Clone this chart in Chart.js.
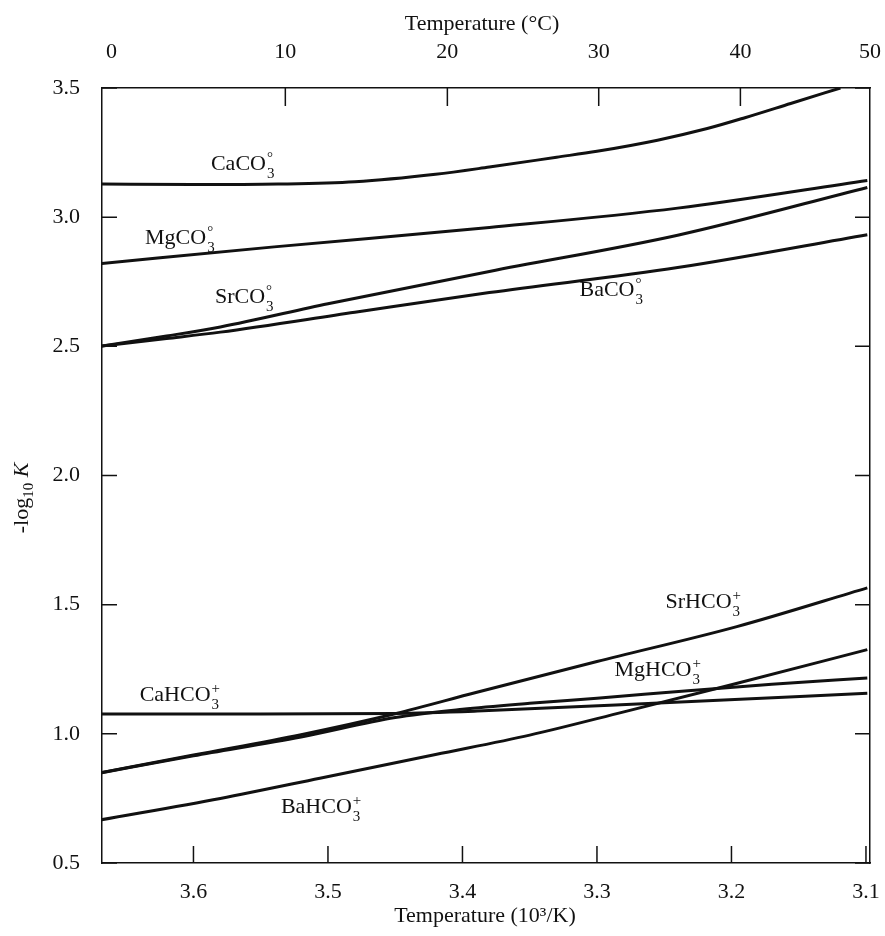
<!DOCTYPE html>
<html>
<head>
<meta charset="utf-8">
<script src="https://cdn.jsdelivr.net/npm/chart.js@4.4.1/dist/chart.umd.min.js"></script>
<style>
  html, body { margin: 0; padding: 0; background: #fff; }
</style>
</head>
<body>
<canvas id="chart" width="885" height="936"></canvas>
<script>
// axis ticks
const X_TICKS = [3.6, 3.5, 3.4, 3.3, 3.2, 3.1];
const Y_TICKS = [0.5, 1.0, 1.5, 2.0, 2.5, 3.0, 3.5];
const CELSIUS_TICKS = [0, 10, 20, 30, 40, 50];

// -log10 K against 1000/T
const CACO3_X = [3.670, 3.600, 3.537, 3.480, 3.420, 3.380, 3.330, 3.300, 3.255, 3.218, 3.190, 3.156, 3.119];
const CACO3_Y = [3.128, 3.126, 3.128, 3.137, 3.166, 3.194, 3.232, 3.255, 3.298, 3.343, 3.385, 3.440, 3.500];

const MGCO3_X = [3.670, 3.540, 3.380, 3.240, 3.099];
const MGCO3_Y = [2.820, 2.885, 2.960, 3.035, 3.142];

const SRCO3_X = [3.670, 3.620, 3.580, 3.500, 3.380, 3.240, 3.099];
const SRCO3_Y = [2.500, 2.540, 2.575, 2.665, 2.790, 2.930, 3.115];

const BACO3_X = [3.670, 3.620, 3.580, 3.480, 3.380, 3.240, 3.099];
const BACO3_Y = [2.500, 2.530, 2.555, 2.632, 2.708, 2.805, 2.932];

const CAHCO3_X = [3.670, 3.550, 3.450, 3.389, 3.250, 3.099];
const CAHCO3_Y = [1.077, 1.077, 1.079, 1.088, 1.120, 1.157];

const MGHCO3_X = [3.670, 3.600, 3.520, 3.450, 3.400, 3.350, 3.300, 3.230, 3.170, 3.099];
const MGHCO3_Y = [0.848, 0.915, 0.988, 1.063, 1.095, 1.118, 1.138, 1.168, 1.192, 1.216];

const SRHCO3_X = [3.670, 3.600, 3.520, 3.450, 3.390, 3.300, 3.196, 3.099];
const SRHCO3_Y = [0.848, 0.918, 0.997, 1.078, 1.160, 1.280, 1.415, 1.565];

const BAHCO3_X = [3.670, 3.580, 3.506, 3.420, 3.350, 3.280, 3.200, 3.099];
const BAHCO3_Y = [0.666, 0.750, 0.828, 0.920, 0.995, 1.085, 1.190, 1.326];

// curve labels, anchored in data units (left edge, middle of text)
const SPECIES = [
  { name: 'CaCO', sup: '°', x: 3.587, y: 3.206 },
  { name: 'MgCO', sup: '°', x: 3.636, y: 2.919 },
  { name: 'SrCO', sup: '°', x: 3.584, y: 2.691 },
  { name: 'BaCO', sup: '°', x: 3.313, y: 2.718 },
  { name: 'CaHCO', sup: '+', x: 3.640, y: 1.150 },
  { name: 'MgHCO', sup: '+', x: 3.287, y: 1.247 },
  { name: 'SrHCO', sup: '+', x: 3.249, y: 1.510 },
  { name: 'BaHCO', sup: '+', x: 3.535, y: 0.716 }
];

const X_MIN = 3.097;
const X_MAX = 3.668;
const SERIF = "'Liberation Serif', 'DejaVu Serif', serif";
const INK = '#111';

function toPoints(xs, ys) {
  return xs.map((x, i) => ({ x: x, y: ys[i] }));
}

function curve(xs, ys) {
  return {
    data: toPoints(xs, ys),
    borderColor: INK,
    borderWidth: 3,
    pointRadius: 0,
    fill: false,
    cubicInterpolationMode: 'monotone'
  };
}

function clampX(v) {
  return Math.min(X_MAX, Math.max(X_MIN, v));
}

const figureText = {
  id: 'figureText',
  afterDraw(chart) {
    const ctx = chart.ctx;
    const { x, y } = chart.scales;
    const area = chart.chartArea;
    ctx.save();
    ctx.fillStyle = INK;
    ctx.strokeStyle = INK;
    ctx.lineWidth = 1.5;

    // inward tick marks on all four sides
    ctx.beginPath();
    X_TICKS.forEach(v => {
      const px = x.getPixelForValue(v);
      ctx.moveTo(px, area.bottom);
      ctx.lineTo(px, area.bottom - 17);
    });
    // 0 and 50 °C sit on the frame, so only the inner ones get a mark
    CELSIUS_TICKS.slice(1, -1).forEach(c => {
      const px = x.getPixelForValue(clampX(1000 / (c + 273.15)));
      ctx.moveTo(px, area.top);
      ctx.lineTo(px, area.top + 18);
    });
    Y_TICKS.forEach(v => {
      const py = y.getPixelForValue(v);
      ctx.moveTo(area.left, py);
      ctx.lineTo(area.left + 15, py);
      ctx.moveTo(area.right, py);
      ctx.lineTo(area.right - 15, py);
    });
    ctx.stroke();

    // curve labels with stacked sub/superscripts
    ctx.textAlign = 'left';
    ctx.textBaseline = 'middle';
    SPECIES.forEach(s => {
      const px = x.getPixelForValue(s.x);
      const py = y.getPixelForValue(s.y);
      ctx.font = '22px ' + SERIF;
      ctx.fillText(s.name, px, py);
      const w = ctx.measureText(s.name).width;
      ctx.font = '15px ' + SERIF;
      ctx.fillText('3', px + w + 1, py + 10);
      ctx.fillText(s.sup, px + w + 1, py - 6);
    });

    // axis titles
    const cx = (area.left + area.right) / 2;
    ctx.textAlign = 'center';
    ctx.font = '22px ' + SERIF;
    ctx.fillText('Temperature (°C)', cx - 4, 24);
    ctx.fillText('Temperature (10³/K)', cx - 1, 916);

    // -log10 K, rotated
    ctx.translate(22, 498);
    ctx.rotate(-Math.PI / 2);
    ctx.textAlign = 'left';
    ctx.font = '22px ' + SERIF;
    const w1 = ctx.measureText('-log').width;
    ctx.font = '15px ' + SERIF;
    const w2 = ctx.measureText('10').width;
    ctx.font = 'italic 22px ' + SERIF;
    const w3 = ctx.measureText(' K').width;
    let tx = -(w1 + w2 + w3) / 2;
    ctx.font = '22px ' + SERIF;
    ctx.fillText('-log', tx, 0);
    tx += w1;
    ctx.font = '15px ' + SERIF;
    ctx.fillText('10', tx, 7);
    tx += w2;
    ctx.font = 'italic 22px ' + SERIF;
    ctx.fillText(' K', tx, 0);
    ctx.restore();
  }
};

const tickFont = { family: SERIF, size: 22 };

new Chart(document.getElementById('chart'), {
  type: 'line',
  data: {
    datasets: [
      curve(CACO3_X, CACO3_Y),
      curve(MGCO3_X, MGCO3_Y),
      curve(SRCO3_X, SRCO3_Y),
      curve(BACO3_X, BACO3_Y),
      curve(CAHCO3_X, CAHCO3_Y),
      curve(MGHCO3_X, MGHCO3_Y),
      curve(SRHCO3_X, SRHCO3_Y),
      curve(BAHCO3_X, BAHCO3_Y)
    ]
  },
  options: {
    responsive: false,
    animation: false,
    layout: { padding: 0 },
    plugins: {
      legend: { display: false },
      tooltip: { enabled: false }
    },
    scales: {
      x: {
        type: 'linear',
        position: 'bottom',
        reverse: true,
        min: X_MIN,
        max: X_MAX,
        afterBuildTicks: s => { s.ticks = X_TICKS.map(v => ({ value: v })); },
        afterFit: s => { s.height = 73; s.paddingLeft = 0; s.paddingRight = 0; },
        grid: { display: false, drawTicks: false },
        border: { display: true, color: INK, width: 1.5 },
        ticks: {
          padding: 16,
          autoSkip: false,
          maxRotation: 0,
          color: INK,
          font: tickFont,
          callback: v => v.toFixed(1)
        }
      },
      xTop: {
        type: 'linear',
        position: 'top',
        reverse: true,
        min: X_MIN,
        max: X_MAX,
        afterBuildTicks: s => {
          s.ticks = CELSIUS_TICKS.map(c => ({ value: clampX(1000 / (c + 273.15)) }));
        },
        afterFit: s => { s.height = 88; s.paddingLeft = 0; s.paddingRight = 0; },
        grid: { display: false, drawTicks: false },
        border: { display: true, color: INK, width: 1.5 },
        ticks: {
          padding: 23,
          autoSkip: false,
          maxRotation: 0,
          color: INK,
          font: tickFont,
          callback: (v, i) => String(CELSIUS_TICKS[i])
        }
      },
      y: {
        type: 'linear',
        position: 'left',
        min: 0.5,
        max: 3.5,
        afterBuildTicks: s => { s.ticks = Y_TICKS.map(v => ({ value: v })); },
        afterFit: s => { s.width = 102; },
        grid: { display: false, drawTicks: false },
        border: { display: true, color: INK, width: 1.5 },
        ticks: {
          padding: 22,
          color: INK,
          font: tickFont,
          callback: v => v.toFixed(1)
        }
      },
      yRight: {
        type: 'linear',
        position: 'right',
        min: 0.5,
        max: 3.5,
        afterFit: s => { s.width = 15; },
        grid: { display: false, drawTicks: false },
        border: { display: true, color: INK, width: 1.5 },
        ticks: { display: false }
      }
    }
  },
  plugins: [figureText]
});
</script>
</body>
</html>
